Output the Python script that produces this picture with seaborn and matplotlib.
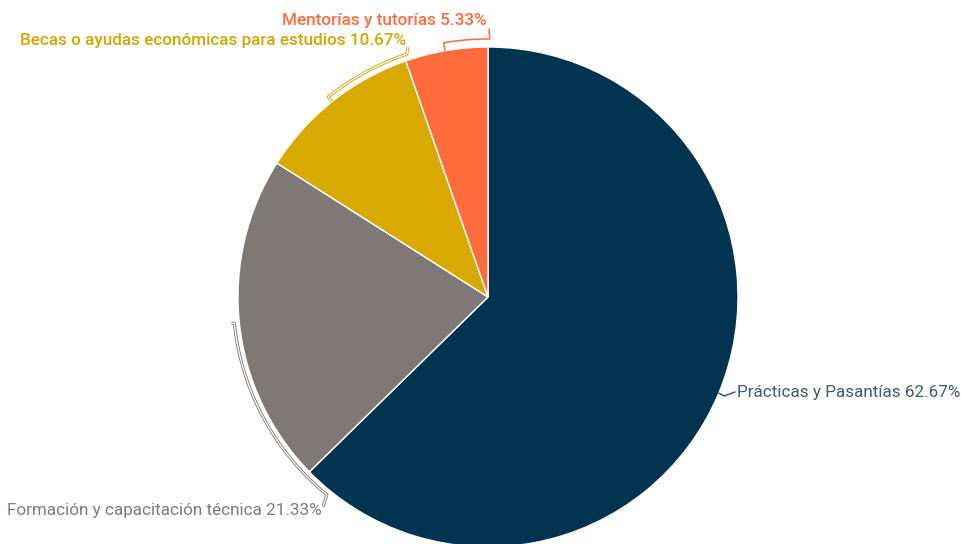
import numpy as np
import matplotlib
matplotlib.use("Agg")
import matplotlib.pyplot as plt
import seaborn as sns

# data
categories = ["Prácticas y Pasantías", "Formación y capacitación técnica",
              "Becas o ayudas económicas para estudios", "Mentorías y tutorías"]
percentages = [62.67, 21.33, 10.67, 5.33]
slice_colors = ["#02344f", "#7e7977", "#d8a900", "#ff6b3b"]
text_colors = ["#3d5b74", "#807b79", "#d4a600", "#ff6b3f"]

sns.set_theme(style="white")
plt.rcParams["font.family"] = ["Roboto", "DejaVu Sans"]

W, H = 961, 544
fig = plt.figure(figsize=(W / 100, H / 100), dpi=100)
ax = fig.add_axes([0, 0, 1, 1])
ax.axis("off")

cx, cy, R = 488, H - 297, 250

ax.pie(percentages, colors=sns.color_palette(slice_colors), startangle=90,
       counterclock=False, center=(cx, cy), radius=R,
       wedgeprops=dict(edgecolor="white", linewidth=1))
ax.set_xlim(0, W)
ax.set_ylim(0, H)
ax.set_aspect("equal")


def pt(a, r):
    t = np.radians(a)
    return cx + r * np.cos(t), cy + r * np.sin(t)


def arc(a1, a2, r):
    t = np.linspace(a1, a2, 60)
    return [pt(a, r) for a in t]


def draw(points, color, double):
    xs, ys = zip(*points)
    if double:
        ax.plot(xs, ys, color=color, lw=2.2, solid_capstyle="butt", zorder=3)
        ax.plot(xs, ys, color="white", lw=0.9, solid_capstyle="butt", zorder=4)
    else:
        ax.plot(xs, ys, color=color, lw=1.1, zorder=3)


# label lines (layout)
# Prácticas
p0 = pt(-22.6, R)
draw([p0, (724, H - 396), (735, H - 392)], text_colors[0], False)
# Formación
a_top = pt(185.9, 255)
pts = [(a_top[0] - 3, a_top[1])] + arc(185.9, 230.8, 255) + [(323, H - 507)]
draw(pts, text_colors[1], True)
# Becas
pts = [pt(128.6, 250)] + arc(128.6, 108.5, 256) + [(408, H - 47)]
draw(pts, text_colors[2], True)
# Mentorías
pts = [pt(99.9, 250)] + arc(99.9, 89.6, 258) + [(489, H - 29)]
draw(pts, text_colors[3], False)

fs = 12.35
labels = [f"{c} {p:.2f}%" for c, p in zip(categories, percentages)]
ax.text(737, H - 393, labels[0], color=text_colors[0], fontsize=fs,
        ha="left", va="center")
ax.text(322, H - 511, labels[1], color=text_colors[1], fontsize=fs,
        ha="right", va="center")
ax.text(406, H - 41, labels[2], color=text_colors[2], fontsize=fs,
        ha="right", va="center", fontweight="medium")
ax.text(487, H - 20, labels[3], color=text_colors[3], fontsize=fs,
        ha="right", va="center", fontweight="medium")

fig.savefig("out.png", dpi=100)
